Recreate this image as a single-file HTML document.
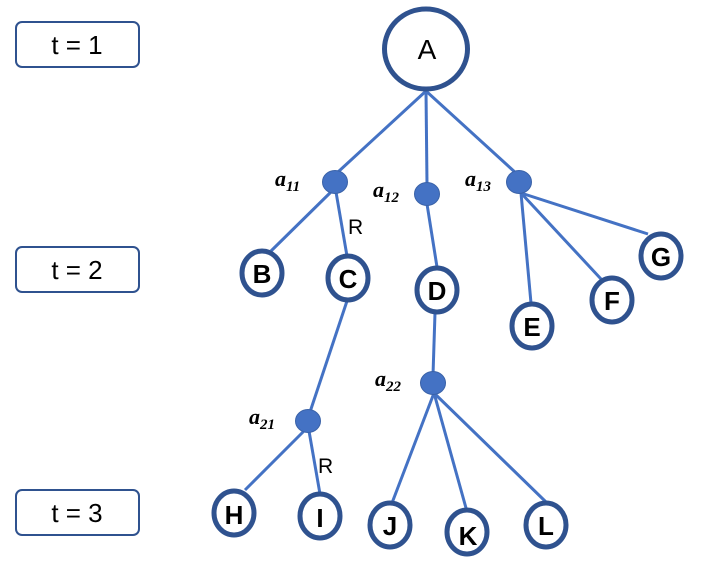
<!DOCTYPE html>
<html><head><meta charset="utf-8"><style>
html,body{margin:0;padding:0;background:#fff;}
svg{display:block;}
.n{fill:#fff;stroke:#2F528F;stroke-width:5;}
.d{fill:#4472C4;stroke:#3A62A8;stroke-width:1;}
.l{stroke:#4472C4;stroke-width:3;fill:none;}
.t{font-family:"Liberation Sans",sans-serif;font-size:26px;fill:#000;text-anchor:middle;}
.b{font-family:"Liberation Sans",sans-serif;font-size:26px;font-weight:bold;fill:#000;text-anchor:middle;}
.a{font-family:"Liberation Serif",serif;font-style:italic;font-weight:bold;font-size:22px;fill:#000;}
.s{font-family:"Liberation Serif",serif;font-weight:bold;font-size:15px;}
.r{font-family:"Liberation Sans",sans-serif;font-size:21px;fill:#000;}
</style></head><body>
<svg width="707" height="569" viewBox="0 0 707 569">
<rect x="16" y="22" width="123" height="45" rx="6" fill="#fff" stroke="#2F528F" stroke-width="2"/>
<rect x="16" y="247" width="123" height="45" rx="6" fill="#fff" stroke="#2F528F" stroke-width="2"/>
<rect x="16" y="490" width="123" height="45" rx="6" fill="#fff" stroke="#2F528F" stroke-width="2"/>
<text class="t" x="77" y="54">t = 1</text>
<text class="t" x="77" y="279">t = 2</text>
<text class="t" x="77" y="522">t = 3</text>
<g class="l">
<line x1="426" y1="91" x2="338" y2="172"/>
<line x1="426" y1="91" x2="427" y2="184"/>
<line x1="426" y1="91" x2="517" y2="174"/>
<line x1="333" y1="190" x2="271" y2="251"/>
<line x1="336" y1="192" x2="347" y2="256"/>
<line x1="427" y1="204" x2="437" y2="267"/>
<line x1="521" y1="193" x2="531" y2="303"/>
<line x1="521" y1="193" x2="601" y2="279"/>
<line x1="521" y1="193" x2="648" y2="234"/>
<line x1="347" y1="301" x2="310" y2="412"/>
<line x1="306" y1="429" x2="245" y2="490"/>
<line x1="309" y1="431" x2="320" y2="494"/>
<line x1="435" y1="313" x2="433" y2="375"/>
<line x1="434" y1="393" x2="392" y2="503"/>
<line x1="434" y1="393" x2="466" y2="508"/>
<line x1="434" y1="393" x2="546" y2="502"/>
</g>
<ellipse class="n" cx="426" cy="49" rx="41.5" ry="40"/>
<text class="b" x="427" y="59" style="font-weight:normal;font-size:28px">A</text>
<ellipse class="n" cx="262" cy="273" rx="20" ry="22"/><text class="b" x="262" y="283">B</text>
<ellipse class="n" cx="348" cy="278" rx="20" ry="22"/><text class="b" x="348" y="288">C</text>
<ellipse class="n" cx="437" cy="290" rx="20" ry="22"/><text class="b" x="437" y="300">D</text>
<ellipse class="n" cx="532" cy="326" rx="20" ry="22"/><text class="b" x="532" y="336">E</text>
<ellipse class="n" cx="612" cy="300" rx="20" ry="22"/><text class="b" x="612" y="310">F</text>
<ellipse class="n" cx="661" cy="256" rx="20" ry="22"/><text class="b" x="661" y="266">G</text>
<ellipse class="n" cx="234" cy="513" rx="20" ry="22"/><text class="b" x="234" y="524">H</text>
<ellipse class="n" cx="320" cy="516" rx="20" ry="22"/><text class="b" x="320" y="527">I</text>
<ellipse class="n" cx="390" cy="525" rx="20" ry="22"/><text class="b" x="390" y="535">J</text>
<ellipse class="n" cx="467" cy="532" rx="20" ry="22"/><text class="b" x="468" y="545">K</text>
<ellipse class="n" cx="546" cy="525" rx="20" ry="22"/><text class="b" x="546" y="535">L</text>
<ellipse class="d" cx="335" cy="182" rx="12.5" ry="11.5"/>
<ellipse class="d" cx="427" cy="194" rx="12.5" ry="11.5"/>
<ellipse class="d" cx="519" cy="182" rx="12.5" ry="11.5"/>
<ellipse class="d" cx="308" cy="421" rx="12.5" ry="11.5"/>
<ellipse class="d" cx="433" cy="383" rx="12.5" ry="11.5"/>
<text class="a" x="275" y="186">a<tspan class="s" dy="5">11</tspan></text>
<text class="a" x="373" y="197">a<tspan class="s" dy="5">12</tspan></text>
<text class="a" x="465" y="186">a<tspan class="s" dy="5">13</tspan></text>
<text class="a" x="249" y="424">a<tspan class="s" dy="5">21</tspan></text>
<text class="a" x="375" y="386">a<tspan class="s" dy="5">22</tspan></text>
<text class="r" x="348" y="234">R</text>
<text class="r" x="318" y="473">R</text>
</svg>
</body></html>
